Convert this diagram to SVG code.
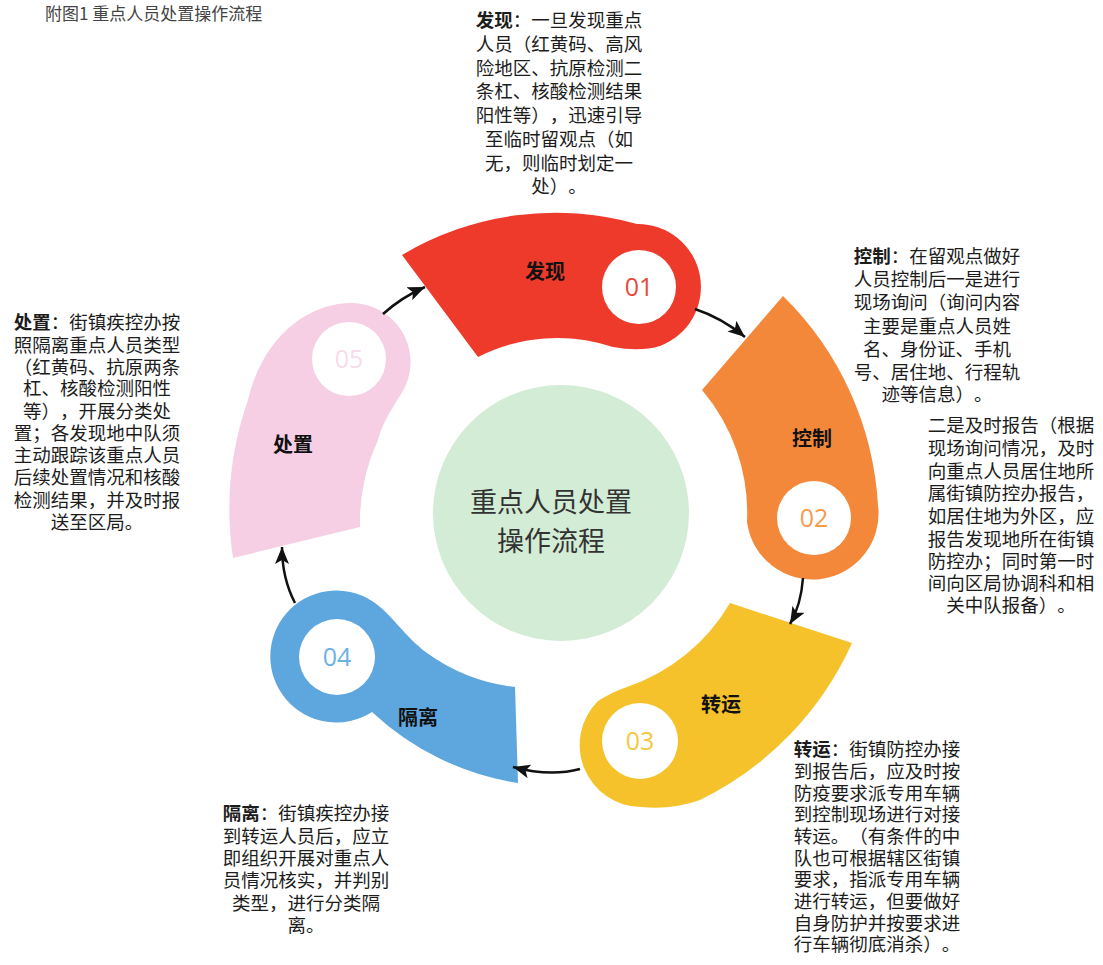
<svg xmlns="http://www.w3.org/2000/svg" width="1103" height="965" viewBox="0 0 1103 965">
<style>
text{text-spacing-trim:space-all}
.t{font-family:"Noto Sans CJK SC","Noto Sans",sans-serif;font-size:18.5px;fill:#1c1c1c;text-anchor:middle}
.b{font-weight:bold}
.lab{font-family:"Noto Sans CJK SC","Noto Sans",sans-serif;font-size:20px;font-weight:bold;fill:#111;text-anchor:middle}
.num{font-family:"Open Sans","Noto Sans",sans-serif;font-size:25px;text-anchor:middle}
.conn{fill:none;stroke:#111;stroke-width:2.5;marker-end:url(#ah)}
</style>
<defs>
<marker id="ah" markerUnits="userSpaceOnUse" markerWidth="18" markerHeight="14" refX="17" refY="7" orient="auto">
<path d="M0,0 L17,7 L0,14 L4,7 z" fill="#111"/>
</marker>
</defs>
<rect width="1103" height="965" fill="#ffffff"/>
<text x="45" y="20" style="font-family:'Noto Sans CJK SC',sans-serif;font-size:17px;fill:#444">附图1 重点人员处置操作流程</text>

<g id="center">
<circle cx="561" cy="513" r="128" fill="#d3ecd5"/>
<text x="551" y="512" style="font-family:'Noto Sans CJK SC',sans-serif;font-size:27px;fill:#333;text-anchor:middle">重点人员处置</text>
<text x="551" y="551" style="font-family:'Noto Sans CJK SC',sans-serif;font-size:27px;fill:#333;text-anchor:middle">操作流程</text>
</g>

<g id="node-faxian">
<path d="M 402 255 A 300 300 0 0 1 637 224 A 63 63 0 0 1 660 346 Q 640 352 613 347 A 175 175 0 0 0 478 357 Z" fill="#ee3a2a"/>
<circle cx="639" cy="287" r="37" fill="#fff"/>
<text class="num" x="639" y="296" fill="#e9473a">01</text>
<text class="lab" x="545" y="279">发现</text>
</g>

<g id="node-kongzhi">
<path d="M 783 296 A 318 318 0 0 1 878 505 A 66 66 0 0 1 747 522 A 190 190 0 0 0 702 390 Z" fill="#f4883a"/>
<circle cx="814" cy="518" r="37" fill="#fff"/>
<text class="num" x="814" y="527" fill="#f59b4e">02</text>
<text class="lab" x="812" y="446">控制</text>
</g>

<g id="node-zhuanyun">
<path d="M 852 643 A 322 322 0 0 1 700 800 Q 672 810 641 807 A 62 62 0 0 1 598 701 Q 612 692 627 687 A 190 190 0 0 0 730 603 Z" fill="#f6c22b"/>
<circle cx="640" cy="741" r="38" fill="#fff"/>
<text class="num" x="640" y="750" fill="#f5c840">03</text>
<text class="lab" x="721" y="712">转运</text>
</g>

<g id="node-geli">
<path d="M 518 783 A 275 275 0 0 1 372 712 A 66 66 0 1 1 372 601 C 390 612 405 637 427 653 A 185 185 0 0 0 515 687 Z" fill="#5ea6de"/>
<circle cx="337" cy="657" r="38" fill="#fff"/>
<text class="num" x="337" y="666" fill="#6cb2e2">04</text>
<text class="lab" x="418" y="725">隔离</text>
</g>

<g id="node-chuzhi">
<path d="M 233 558 A 330 330 0 0 1 248 400 C 262 340 305 303 352 303 A 59 59 0 0 1 405 387 C 395 405 383 420 378 440 A 196 196 0 0 0 360 527 Z" fill="#f6cfe5"/>
<circle cx="349" cy="359" r="37" fill="#fff"/>
<text class="num" x="349" y="368" fill="#f7dcec">05</text>
<text class="lab" x="293" y="452">处置</text>
</g>

<g id="connectors">
<path class="conn" d="M 383 314 Q 402 297 425 287"/>
<path class="conn" d="M 695 309 Q 722 318 745 337"/>
<path class="conn" d="M 803 578 Q 801 605 790 624"/>
<path class="conn" d="M 580 769 Q 550 777 513 767"/>
<path class="conn" d="M 295 603 Q 282 578 282 547"/>
</g>

<g id="text-faxian">
<text class="t" x="559" y="27"><tspan class="b">发现</tspan>：一旦发现重点</text>
<text class="t" x="559" y="51">人员（红黄码、高风</text>
<text class="t" x="559" y="75">险地区、抗原检测二</text>
<text class="t" x="559" y="98">条杠、核酸检测结果</text>
<text class="t" x="559" y="122">阳性等），迅速引导</text>
<text class="t" x="559" y="146">至临时留观点（如</text>
<text class="t" x="559" y="170">无，则临时划定一</text>
<text class="t" x="559" y="193">处）。</text>
</g>

<g id="text-kongzhi">
<text class="t" x="937" y="263"><tspan class="b">控制</tspan>：在留观点做好</text>
<text class="t" x="937" y="286">人员控制后一是进行</text>
<text class="t" x="937" y="309">现场询问（询问内容</text>
<text class="t" x="937" y="333">主要是重点人员姓</text>
<text class="t" x="937" y="356">名、身份证、手机</text>
<text class="t" x="937" y="379">号、居住地、行程轨</text>
<text class="t" x="937" y="401">迹等信息）。</text>
<text class="t" x="1011" y="432">二是及时报告（根据</text>
<text class="t" x="1011" y="455">现场询问情况，及时</text>
<text class="t" x="1011" y="478">向重点人员居住地所</text>
<text class="t" x="1011" y="500">属街镇防控办报告，</text>
<text class="t" x="1011" y="523">如居住地为外区，应</text>
<text class="t" x="1011" y="546">报告发现地所在街镇</text>
<text class="t" x="1011" y="568">防控办；同时第一时</text>
<text class="t" x="1011" y="590">间向区局协调科和相</text>
<text class="t" x="1011" y="612">关中队报备）。</text>
</g>

<g id="text-zhuanyun">
<text class="t" x="877" y="756"><tspan class="b">转运</tspan>：街镇防控办接</text>
<text class="t" x="877" y="778">到报告后，应及时按</text>
<text class="t" x="877" y="800">防疫要求派专用车辆</text>
<text class="t" x="877" y="821">到控制现场进行对接</text>
<text class="t" x="877" y="843">转运。（有条件的中</text>
<text class="t" x="877" y="865">队也可根据辖区街镇</text>
<text class="t" x="877" y="886">要求，指派专用车辆</text>
<text class="t" x="877" y="908">进行转运，但要做好</text>
<text class="t" x="877" y="930">自身防护并按要求进</text>
<text class="t" x="877" y="951">行车辆彻底消杀）。</text>
</g>

<g id="text-geli">
<text class="t" x="306" y="820"><tspan class="b">隔离</tspan>：街镇疾控办接</text>
<text class="t" x="306" y="843">到转运人员后，应立</text>
<text class="t" x="306" y="865">即组织开展对重点人</text>
<text class="t" x="306" y="887">员情况核实，并判别</text>
<text class="t" x="306" y="910">类型，进行分类隔</text>
<text class="t" x="306" y="932">离。</text>
</g>

<g id="text-chuzhi">
<text class="t" x="97" y="329"><tspan class="b">处置</tspan>：街镇疾控办按</text>
<text class="t" x="97" y="352">照隔离重点人员类型</text>
<text class="t" x="97" y="374">（红黄码、抗原两条</text>
<text class="t" x="97" y="395">杠、核酸检测阳性</text>
<text class="t" x="97" y="418">等），开展分类处</text>
<text class="t" x="97" y="440">置；各发现地中队须</text>
<text class="t" x="97" y="462">主动跟踪该重点人员</text>
<text class="t" x="97" y="484">后续处置情况和核酸</text>
<text class="t" x="97" y="507">检测结果，并及时报</text>
<text class="t" x="97" y="529">送至区局。</text>
</g>
</svg>
